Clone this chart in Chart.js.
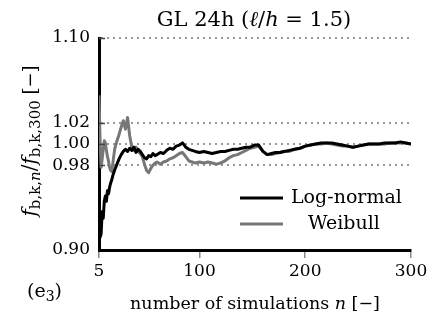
<!DOCTYPE html>
<html>
<head>
<meta charset="utf-8">
<script src="https://cdn.jsdelivr.net/npm/chart.js@4.4.1/dist/chart.umd.min.js"></script>
<style>
  body { margin: 0; background: #fff; }
  canvas { display: block; }
</style>
</head>
<body>
<canvas id="convChart" width="438" height="320"></canvas>
<script>
const nSim = [
    5, 6, 7, 8, 9, 10, 11, 12, 13, 14, 15, 16, 17, 18, 19, 20,
    22, 24, 26, 28, 30, 32, 34, 36, 38, 40, 42, 44, 46, 48, 50, 52, 54, 56, 58, 60,
    63, 66, 69, 72, 75, 78, 81, 84, 87, 90, 93, 96,
    100, 104, 108, 112, 116, 120, 124, 128, 132, 136, 140, 144, 148, 152, 156, 160, 164, 168, 172, 176, 180,
    185, 190, 195, 200, 205, 210, 215, 220, 225, 230, 235, 240, 245, 250, 255, 260, 265, 270, 275, 280, 285, 290, 295, 300
];

const logNormal = [
    0.925, 0.912, 0.915, 0.936, 0.930, 0.946, 0.951, 0.946, 0.956, 0.953, 0.959, 0.963, 0.966, 0.970, 0.973, 0.976,
    0.981, 0.986, 0.990, 0.993, 0.995, 0.993, 0.996, 0.994, 0.997, 0.992, 0.995, 0.993, 0.990, 0.987, 0.986, 0.989, 0.988, 0.991, 0.989, 0.990,
    0.992, 0.991, 0.994, 0.996, 0.995, 0.998, 0.999, 1.001, 0.997, 0.995, 0.994, 0.993,
    0.992, 0.993, 0.992, 0.991, 0.992, 0.993, 0.993, 0.994, 0.995, 0.995, 0.996, 0.997, 0.997, 0.999, 0.999, 0.993, 0.990, 0.991, 0.992, 0.992, 0.993,
    0.994, 0.995, 0.996, 0.998, 0.999, 1.000, 1.001, 1.001, 1.001, 1.000, 0.999, 0.998, 0.997, 0.998, 0.999, 1.000, 1.000, 1.000, 1.001, 1.001, 1.001, 1.002, 1.001, 1.000
];

const weibull = [
    1.046, 1.004, 0.978, 0.986, 0.995, 1.003, 1.001, 0.994, 0.988, 0.984, 0.978, 0.975, 0.974, 0.981, 0.989, 0.996,
    1.003, 1.009, 1.016, 1.022, 1.014, 1.025, 1.008, 0.997, 0.994, 0.997, 0.993, 0.991, 0.988, 0.981, 0.975, 0.973, 0.977, 0.980, 0.982, 0.983,
    0.981, 0.983, 0.984, 0.986, 0.987, 0.989, 0.991, 0.992, 0.988, 0.984, 0.983, 0.982,
    0.983, 0.982, 0.983, 0.982, 0.981, 0.982, 0.984, 0.987, 0.989, 0.990, 0.992, 0.994, 0.996, 0.997, 0.998, 0.993, 0.990, 0.990, 0.991, 0.992, 0.993,
    0.993, 0.995, 0.996, 0.998, 0.999, 1.000, 1.000, 1.001, 1.000, 0.999, 0.998, 0.998, 0.997, 0.998, 0.999, 1.000, 1.000, 1.000, 1.000, 1.001, 1.001, 1.001, 1.001, 1.000
];

const seriesNames = ['Log-normal', 'Weibull'];
const seriesColors = ['#000000', '#777777'];
const xTicks = [5, 100, 200, 300];
const yTicks = [0.90, 0.98, 1.00, 1.02, 1.10];

const serif = '"DejaVu Serif", "Liberation Serif", serif';
const f = (size, style) => (style ? style + ' ' : '') + size + 'px ' + serif;

// draws text made of pieces with different fonts: [text, font, dy]
function drawRich(ctx, parts, x, y, align) {
    let w = 0;
    parts.forEach(p => { ctx.font = p[1]; w += ctx.measureText(p[0]).width; });
    let cx = align === 'center' ? x - w / 2 : x;
    ctx.textAlign = 'left';
    ctx.textBaseline = 'alphabetic';
    parts.forEach(p => {
        ctx.font = p[1];
        ctx.fillText(p[0], cx, y + (p[2] || 0));
        cx += ctx.measureText(p[0]).width;
    });
}

const extras = {
    id: 'extras',
    afterDraw(chart) {
        const ctx = chart.ctx;
        const area = chart.chartArea;
        const yScale = chart.scales.y;
        ctx.save();
        ctx.fillStyle = '#000';

        // short inward ticks on the y axis
        ctx.strokeStyle = '#444';
        ctx.lineWidth = 1.5;
        yTicks.forEach(v => {
            if (v === 0.90) return;
            const py = Math.round(yScale.getPixelForValue(v)) + 0.5;
            ctx.beginPath();
            ctx.moveTo(area.left, py);
            ctx.lineTo(area.left + 6, py);
            ctx.stroke();
        });

        // title
        drawRich(ctx, [
            ['GL 24h (', f(21)], ['\u2113', f(21, 'italic')], ['/', f(21)],
            ['h', f(21, 'italic')], [' = 1.5)', f(21)]
        ], 254, 26, 'center');

        // x axis title
        drawRich(ctx, [
            ['number of simulations ', f(17.5)], ['n', f(17.5, 'italic')], [' [\u2212]', f(17.5)]
        ], (area.left + area.right) / 2, 309, 'center');

        // panel label
        drawRich(ctx, [['(e', f(19)], ['3', f(14), 4], [')', f(19)]], 27, 297, 'left');

        // y axis title
        ctx.save();
        ctx.translate(36, 141);
        ctx.rotate(-Math.PI / 2);
        drawRich(ctx, [
            ['f', f(20, 'italic')], ['b,k,', f(15), 4], ['n', f(15, 'italic'), 4],
            ['/', f(20)], ['f', f(20, 'italic')], ['b,k,300', f(15), 4], [' [\u2212]', f(18)]
        ], 0, 0, 'center');
        ctx.restore();

        // legend
        const rows = [[198, 291], [224, 308]];
        chart.data.datasets.forEach((ds, i) => {
            const ly = rows[i][0];
            ctx.strokeStyle = ds.borderColor;
            ctx.lineWidth = 3;
            ctx.beginPath();
            ctx.moveTo(240, ly);
            ctx.lineTo(283, ly);
            ctx.stroke();
            ctx.font = f(19);
            ctx.textAlign = 'left';
            ctx.textBaseline = 'middle';
            ctx.fillStyle = '#000';
            ctx.fillText(ds.label, rows[i][1], ly);
        });
        ctx.restore();
    }
};

new Chart(document.getElementById('convChart'), {
    type: 'line',
    data: {
        datasets: [
            {
                label: seriesNames[0],
                data: nSim.map((n, i) => ({ x: n, y: logNormal[i] })),
                borderColor: seriesColors[0],
                borderWidth: 3
            },
            {
                label: seriesNames[1],
                data: nSim.map((n, i) => ({ x: n, y: weibull[i] })),
                borderColor: seriesColors[1],
                borderWidth: 3
            }
        ]
    },
    options: {
        responsive: false,
        devicePixelRatio: 1,
        animation: false,
        layout: { padding: { top: 38, right: 27, left: 0, bottom: 0 } },
        elements: { point: { radius: 0 }, line: { tension: 0, borderJoinStyle: 'round' } },
        plugins: { legend: { display: false }, title: { display: false }, tooltip: { enabled: false } },
        scales: {
            x: {
                type: 'linear',
                min: 5,
                max: 300,
                afterBuildTicks: s => { s.ticks = xTicks.map(v => ({ value: v })); },
                afterFit: s => { s.height = 70; },
                grid: { drawOnChartArea: false, drawTicks: true, tickLength: 8, color: '#8a8a8a', lineWidth: 1.5 },
                border: { color: '#000', width: 3 },
                ticks: { color: '#000', font: { family: serif, size: 17 }, padding: 3, maxRotation: 0, autoSkip: false }
            },
            y: {
                min: 0.90,
                max: 1.10,
                afterBuildTicks: s => { s.ticks = yTicks.map(v => ({ value: v })); },
                afterFit: s => { s.width = 99; },
                grid: {
                    drawTicks: false,
                    lineWidth: 2,
                    color: c => (c.tick && c.tick.value === 0.90) ? 'rgba(0,0,0,0)' : '#999'
                },
                border: { color: '#000', width: 3, dash: [2, 4] },
                ticks: {
                    color: '#000',
                    font: { family: serif, size: 17 },
                    padding: 9,
                    autoSkip: false,
                    callback: v => v.toFixed(2)
                }
            }
        }
    },
    plugins: [extras]
});
</script>
</body>
</html>
